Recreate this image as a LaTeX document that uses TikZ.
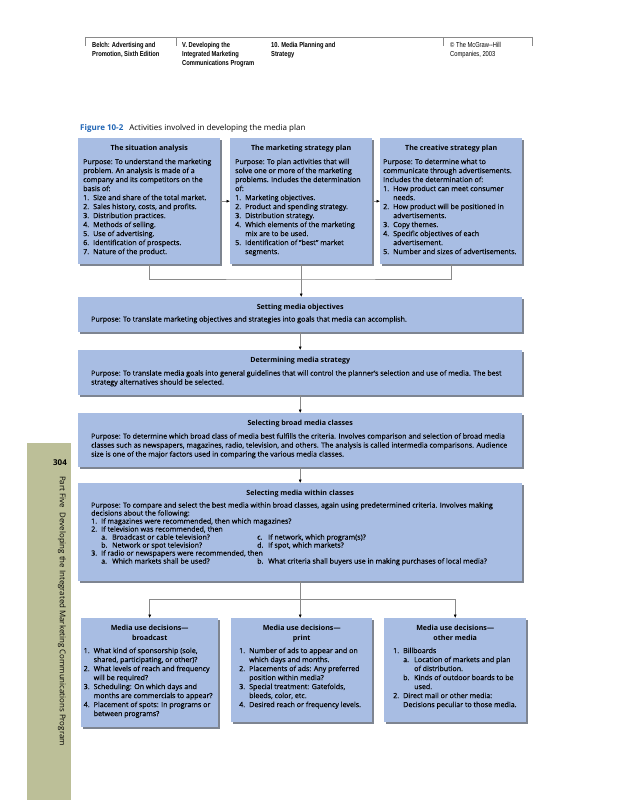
\documentclass[tikz,border=0pt]{standalone}
\usepackage{fontspec}
\setmainfont{Open Sans}[UprightFeatures={FakeBold=0.3}]
\newfontfamily\plainfont{Open Sans}
\newfontfamily\hdrfont[FakeStretch=0.8]{Liberation Sans}
\usetikzlibrary{arrows.meta,shadows}
\definecolor{boxblue}{HTML}{A8BDE3}
\definecolor{shadowc}{HTML}{5E6676}
\definecolor{sidebar}{HTML}{BCBF98}
\definecolor{figblue}{HTML}{1F64B4}
\definecolor{linegray}{HTML}{8A8A8A}
\newcommand\boxcontent[3]{\parbox[t][#2][t]{#1}{\raggedright #3}}
\newcommand\itm[2]{\makebox[10pt][l]{#1}#2}
\newcommand\subitm[2]{\makebox[11pt][l]{#1}#2}
\newcommand\cnt{\hspace*{10pt}}
\begin{document}
\begin{tikzpicture}[x=1pt,y=-1pt,
  bodyfont/.style={font=\fontsize{7.1}{9}\selectfont},
  flowbox/.style={fill=boxblue, anchor=north west, inner ysep=7pt,
    drop shadow={shadow xshift=2pt,shadow yshift=-2pt,fill=shadowc,opacity=0.8}, bodyfont},
  conn/.style={draw=linegray, line width=0.5pt},
  arr/.style={conn, -{Latex[length=3.5pt,width=3pt,color=black]}},
  hdr/.style={anchor=north west, inner sep=0pt, align=left, font=\hdrfont\fontsize{7.2}{9}\selectfont}
]
\useasboundingbox (0,0) rectangle (617,800);

% header
\coordinate (h0) at (85,37);
\coordinate (h1) at (176,37);
\coordinate (h2) at (443,37);
\coordinate (h3) at (532,37);
\draw[linegray, line width=0.5pt] (h0) -- (h3);
\foreach \h in {h0,h1,h2,h3} \draw[linegray, line width=0.5pt] (\h) -- ++(0,9);
\node[hdr] (t1) at (92,42) {\bfseries Belch: Advertising and\\\bfseries Promotion, Sixth Edition};
\node[hdr] (t2) at (182,42) {\bfseries V. Developing the\\\bfseries Integrated Marketing\\\bfseries Communications Program};
\node[hdr] (t3) at (271,42) {\bfseries 10. Media Planning and\\\bfseries Strategy};
\node[hdr] (t4) at (450,42) {\textcopyright{} The McGraw--Hill\\Companies, 2003};

% caption
\node[anchor=west, inner sep=0pt, font=\plainfont\fontsize{8}{10}\selectfont] (cap) at (80,128)
  {\textcolor{figblue}{\bfseries Figure 10-2}\hspace{6pt}Activities involved in developing the media plan};

% sidebar
\fill[sidebar] (27,443) rectangle (71,800);
\node[font=\plainfont\bfseries\fontsize{8}{10}\selectfont, inner sep=0pt] (pg) at (60,463) {304};
\node[rotate=-90, anchor=west, inner sep=0pt, font=\plainfont\fontsize{7.9}{9}\selectfont] (part) at (62,476)
  {Part Five\hspace{5pt}Developing the Integrated Marketing Communications Program};

% top boxes
\node[flowbox, inner xsep=5pt] (b1) at (78,138) {\boxcontent{132pt}{112pt}{%
{\centering\bfseries The situation analysis\par}\vspace{4.5pt}
Purpose: To understand the marketing\\
problem. An analysis is made of a\\
company and its competitors on the\\
basis of:\\
\itm{1.}{Size and share of the total market.}\\
\itm{2.}{Sales history, costs, and profits.}\\
\itm{3.}{Distribution practices.}\\
\itm{4.}{Methods of selling.}\\
\itm{5.}{Use of advertising.}\\
\itm{6.}{Identification of prospects.}\\
\itm{7.}{Nature of the product.}}};

\node[flowbox, inner xsep=5pt] (b2) at (230,138) {\boxcontent{132pt}{112pt}{%
{\centering\bfseries The marketing strategy plan\par}\vspace{4.5pt}
Purpose: To plan activities that will\\
solve one or more of the marketing\\
problems. Includes the determination\\
of:\\
\itm{1.}{Marketing objectives.}\\
\itm{2.}{Product and spending strategy.}\\
\itm{3.}{Distribution strategy.}\\
\itm{4.}{Which elements of the marketing}\\
\cnt mix are to be used.\\
\itm{5.}{Identification of "best" market}\\
\cnt segments.}};

\node[flowbox, inner xsep=3pt] (b3) at (380,138) {\boxcontent{136pt}{112pt}{%
{\centering\bfseries The creative strategy plan\par}\vspace{4.5pt}
Purpose: To determine what to\\
communicate through advertisements.\\
Includes the determination of:\\
\itm{1.}{How product can meet consumer}\\
\cnt needs.\\
\itm{2.}{How product will be positioned in}\\
\cnt advertisements.\\
\itm{3.}{Copy themes.}\\
\itm{4.}{Specific objectives of each}\\
\cnt advertisement.\\
\itm{5.}{Number and sizes of advertisements.}}};

% wide boxes
\node[flowbox, inner xsep=13pt] (obj) at (78,297) {\boxcontent{418pt}{21pt}{%
{\centering\bfseries Setting media objectives\par}\vspace{3pt}
Purpose: To translate marketing objectives and strategies into goals that media can accomplish.}};

\node[flowbox, inner xsep=13pt] (strat) at (78,350) {\boxcontent{418pt}{31pt}{%
{\centering\bfseries Determining media strategy\par}\vspace{4pt}
Purpose: To translate media goals into general guidelines that will control the planner's selection and use of media. The best\\
strategy alternatives should be selected.}};

\node[flowbox, inner xsep=13pt] (broad) at (78,413) {\boxcontent{418pt}{40pt}{%
{\centering\bfseries Selecting broad media classes\par}\vspace{4pt}
Purpose: To determine which broad class of media best fulfills the criteria. Involves comparison and selection of broad media\\
classes such as newspapers, magazines, radio, television, and others. The analysis is called intermedia comparisons. Audience\\
size is one of the major factors used in comparing the various media classes.}};

\node[flowbox, inner xsep=13pt] (within) at (78,483) {\boxcontent{418pt}{84pt}{\fontsize{7.1}{8}\selectfont
{\centering\bfseries Selecting media within classes\par}\vspace{4pt}
Purpose: To compare and select the best media within broad classes, again using predetermined criteria. Involves making\\
decisions about the following:\\
\itm{1.}{If magazines were recommended, then which magazines?}\\
\itm{2.}{If television was recommended, then}\\
\cnt\subitm{a.}{\makebox[145pt][l]{Broadcast or cable television?}}\subitm{c.}{If network, which program(s)?}\\
\cnt\subitm{b.}{\makebox[145pt][l]{Network or spot television?}}\subitm{d.}{If spot, which markets?}\\
\itm{3.}{If radio or newspapers were recommended, then}\\
\cnt\subitm{a.}{\makebox[145pt][l]{Which markets shall be used?}}\subitm{b.}{What criteria shall buyers use in making purchases of local media?}}};

% bottom boxes
\node[flowbox, inner xsep=2.5pt] (bc) at (81,618) {\boxcontent{132pt}{95pt}{%
{\centering\bfseries\fontsize{7.1}{9.5}\selectfont Media use decisions---\\broadcast\par}\vspace{4pt}
\itm{1.}{What kind of sponsorship (sole,}\\
\cnt shared, participating, or other)?\\
\itm{2.}{What levels of reach and frequency}\\
\cnt will be required?\\
\itm{3.}{Scheduling: On which days and}\\
\cnt months are commercials to appear?\\
\itm{4.}{Placement of spots: In programs or}\\
\cnt between programs?}};

\node[flowbox, inner xsep=8pt] (pr) at (231,618) {\boxcontent{125pt}{90pt}{%
{\centering\bfseries\fontsize{7.1}{9.5}\selectfont Media use decisions---\\print\par}\vspace{4pt}
\itm{1.}{Number of ads to appear and on}\\
\cnt which days and months.\\
\itm{2.}{Placements of ads: Any preferred}\\
\cnt position within media?\\
\itm{3.}{Special treatment: Gatefolds,}\\
\cnt bleeds, color, etc.\\
\itm{4.}{Desired reach or frequency levels.}}};

\node[flowbox, inner xsep=9pt] (ot) at (384,618) {\boxcontent{124pt}{90pt}{%
{\centering\bfseries\fontsize{7.1}{9.5}\selectfont Media use decisions---\\other media\par}\vspace{4pt}
\itm{1.}{Billboards}\\
\cnt\subitm{a.}{Location of markets and plan}\\
\cnt\hspace*{11pt}of distribution.\\
\cnt\subitm{b.}{Kinds of outdoor boards to be}\\
\cnt\hspace*{11pt}used.\\
\itm{2.}{Direct mail or other media:}\\
\cnt Decisions peculiar to those media.}};

% connectors
\draw[arr] (b1.east) -- (b2.west);
\draw[arr] (b2.east) -- (b3.west);
\coordinate (j1) at (301,279);
\draw[conn] (b1.south) |- (j1) -| (b3.south);
\draw[arr] (b2.south) -- (b2.south |- obj.north);
\draw[arr] (obj.south) -- (strat.north);
\draw[arr] (strat.south) -- (broad.north);
\draw[arr] (broad.south) -- (within.north);
\coordinate (j2) at (301,599);
\draw[conn] (bc.north |- j2) -- (ot.north |- j2);
\draw[arr] (within.south) -- (within.south |- pr.north);
\draw[arr] (bc.north |- j2) -- (bc.north);
\draw[arr] (ot.north |- j2) -- (ot.north);
\end{tikzpicture}
\end{document}
